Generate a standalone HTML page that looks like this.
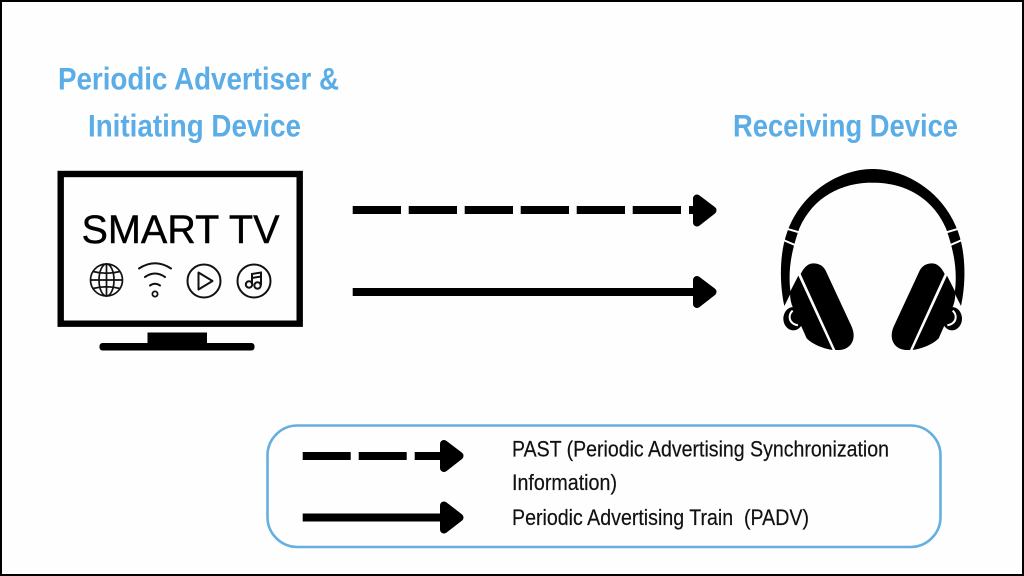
<!DOCTYPE html>
<html><head><meta charset="utf-8"><style>html,body{margin:0;padding:0;background:#fff}svg{display:block}</style></head>
<body>
<svg xmlns="http://www.w3.org/2000/svg" width="1024" height="576" viewBox="0 0 1024 576">
<rect x="1" y="1" width="1022" height="574" fill="#fefefe" stroke="#000" stroke-width="2"/>
<g font-family="'Liberation Sans Narrow','Liberation Sans',sans-serif" font-weight="700" font-size="31.5" fill="#5aade6">
<text x="58" y="89.3" textLength="281" lengthAdjust="spacingAndGlyphs">Periodic Advertiser &amp;</text>
<text x="88" y="136.7" textLength="213" lengthAdjust="spacingAndGlyphs">Initiating Device</text>
<text x="733" y="136.7" textLength="225" lengthAdjust="spacingAndGlyphs">Receiving Device</text>
</g>
<rect x="60.7" y="174" width="239" height="149.7" fill="none" stroke="#000" stroke-width="6.4"/>
<rect x="147.5" y="332.5" width="59.5" height="12" fill="#000"/>
<rect x="99.5" y="343" width="155" height="7.5" rx="3" fill="#000"/>
<text x="81.5" y="243" font-family="'Liberation Sans',sans-serif" font-size="39.5" fill="#000" stroke="#000" stroke-width=".4" textLength="198" lengthAdjust="spacingAndGlyphs">SMART TV</text>
<g fill="none" stroke="#111" stroke-width="1.7">
<circle cx="106.5" cy="280" r="16"/>
<ellipse cx="106.5" cy="280" rx="7.5" ry="16"/>
<path d="M106.5 264V296M90.5 280H122.5M93 271.5Q106.5 275 120 271.5M93 288.5Q106.5 285 120 288.5"/>
<path d="M139 268.5Q155 258 171 268.5M145 277Q155 270 165 277M150 285.5Q155 282 160 285.5" stroke-width="2" stroke-linecap="round"/>
<circle cx="155" cy="294" r="2.6" stroke-width="1.8"/>
<circle cx="204" cy="281" r="16.5" stroke-width="2"/>
<path d="M198.5 272.5L212.5 281L198.5 289.5Z" stroke-width="2" stroke-linejoin="round"/>
<circle cx="254" cy="281" r="16.5" stroke-width="2"/>
<circle cx="249" cy="284.5" r="3.2" stroke-width="2"/>
<circle cx="257.5" cy="285.5" r="3.2" stroke-width="2"/>
<path d="M252 284V274L261 272.5V285M252 278L261 276.5" stroke-width="2"/>
</g>
<g fill="#000">
<rect x="352.7" y="206" width="48.3" height="8"/><rect x="408.7" y="206" width="48.3" height="8"/><rect x="464.7" y="206" width="48.3" height="8"/><rect x="520.7" y="206" width="48.3" height="8"/><rect x="576.7" y="206" width="48.3" height="8"/><rect x="632.7" y="206" width="48.3" height="8"/><rect x="689" y="206" width="8" height="8"/>
<path d="M697 198.5L712.5 210.3L697 222.5Z" stroke="#000" stroke-width="8" stroke-linejoin="round"/>
<rect x="352.7" y="288" width="345" height="8"/>
<path d="M697 280L712.5 291.8L697 304Z" stroke="#000" stroke-width="8" stroke-linejoin="round"/>
</g>
<g transform="translate(760 160) scale(.33333)">
<g>
<ellipse cx="100" cy="476" rx="30" ry="35" fill="#000"/>
<path d="M98 452C84 465 84 490 114 496" fill="none" stroke="#fefefe" stroke-width="6"/>
<path d="M66 446L96 428" fill="none" stroke="#fefefe" stroke-width="6"/>
<path d="M344 27H338C240 27 125 95 82 215C58 280 58 370 73 438L92 400C84 340 90 285 118 205C160 110 245 68 338 68H344Z" fill="#000"/>
<path d="M80 206L134 222M70 240L114 259" fill="none" stroke="#fefefe" stroke-width="6"/>
<path d="M115 347L92 392C88 405 92 425 96 436L140 535C160 555 190 565 218 570Z" fill="#000"/>
<path d="M122 342C135 315 150 310 160 310C178 310 190 318 197 332L275 500C292 540 270 568 240 570H226Z" fill="#000"/>
</g>
<g transform="translate(676 0) scale(-1 1)">
<ellipse cx="100" cy="476" rx="30" ry="35" fill="#000"/>
<path d="M98 452C84 465 84 490 114 496" fill="none" stroke="#fefefe" stroke-width="6"/>
<path d="M66 446L96 428" fill="none" stroke="#fefefe" stroke-width="6"/>
<path d="M344 27H338C240 27 125 95 82 215C58 280 58 370 73 438L92 400C84 340 90 285 118 205C160 110 245 68 338 68H344Z" fill="#000"/>
<path d="M80 206L134 222M70 240L114 259" fill="none" stroke="#fefefe" stroke-width="6"/>
<path d="M115 347L92 392C88 405 92 425 96 436L140 535C160 555 190 565 218 570Z" fill="#000"/>
<path d="M122 342C135 315 150 310 160 310C178 310 190 318 197 332L275 500C292 540 270 568 240 570H226Z" fill="#000"/>
</g>
</g>
<rect x="267.5" y="425.5" width="673" height="121.5" rx="30" fill="#fefefe" stroke="#66afe0" stroke-width="2.6"/>
<g fill="#000">
<rect x="302.7" y="452" width="48" height="8"/><rect x="358.7" y="452" width="48" height="8"/><rect x="414.7" y="452" width="30" height="8"/>
<path d="M444 444L459.5 455.8L444 468Z" stroke="#000" stroke-width="8" stroke-linejoin="round"/>
<rect x="302.7" y="513.5" width="142" height="8"/>
<path d="M444 505.5L459.5 517.5L444 529.5Z" stroke="#000" stroke-width="8" stroke-linejoin="round"/>
</g>
<g font-family="'Liberation Sans Narrow','Liberation Sans',sans-serif" font-size="22" fill="#111" stroke="#111" stroke-width=".2">
<text x="512" y="456.7" textLength="377" lengthAdjust="spacingAndGlyphs">PAST (Periodic Advertising Synchronization</text>
<text x="512" y="490" textLength="105" lengthAdjust="spacingAndGlyphs">Information)</text>
<text x="512" y="525" textLength="297" lengthAdjust="spacingAndGlyphs" xml:space="preserve">Periodic Advertising Train  (PADV)</text>
</g>
</svg>
</body></html>
